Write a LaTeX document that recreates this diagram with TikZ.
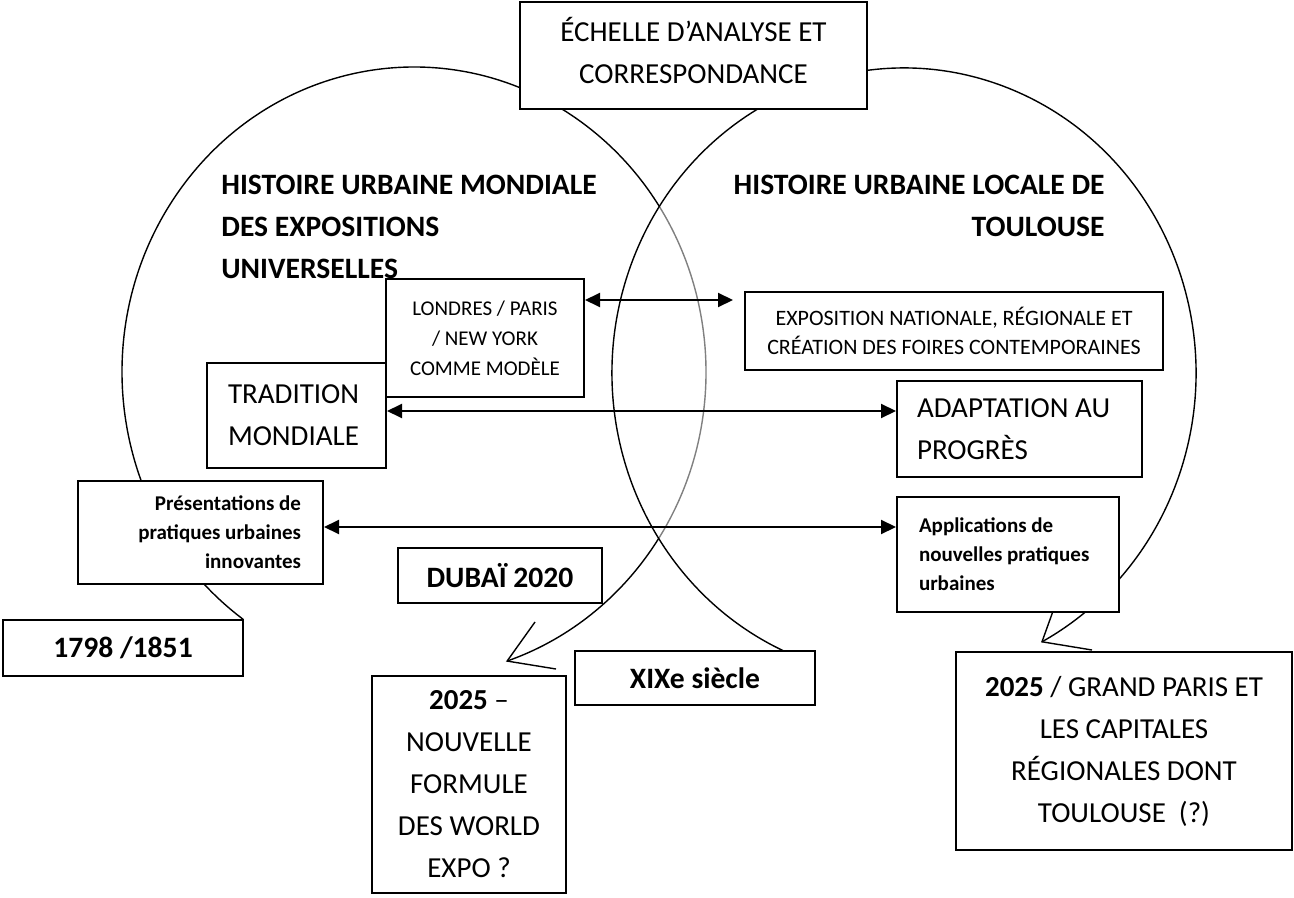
\documentclass[tikz,border=0pt]{standalone}
\usepackage{fontspec}
\setmainfont{Carlito}
\usepackage{tikz}
\usetikzlibrary{arrows.meta}

\begin{document}
\begin{tikzpicture}[
  x=0.5pt, y=-0.5pt,
  every node/.style={inner sep=0pt},
  box/.style={draw, fill=white, line width=1pt},
  bigtext/.style={font=\fontsize{14.5}{21}\selectfont},
  bigbold/.style={font=\fontsize{14.8}{21}\selectfont\bfseries},
  smalltext/.style={font=\fontsize{10.5}{15}\selectfont},
  boldsmall/.style={font=\fontsize{10.5}{14.5}\selectfont\bfseries},
  lobe/.style={line width=0.7pt},
  link/.style={line width=1pt, {Triangle[length=7.5pt,width=7pt]}-{Triangle[length=7.5pt,width=7pt]}}
]
  \useasboundingbox (0,0) rectangle (1294,898);

  % the two lobes
  \coordinate (lc) at (414,372);
  \coordinate (rc) at (904,373);
  \draw[lobe] (lc) ++(-125.8:146pt and 152.5pt)
    arc[start angle=-125.8, end angle=-431.4, x radius=146pt, y radius=152.5pt] coordinate (ltip);
  \coordinate (lnotch) at (535,622);
  \coordinate (lspur) at (556,669);
  \draw[lobe] (lnotch) -- (ltip) -- (lspur);

  \fill[white, fill opacity=0.5] (rc) ellipse [x radius=146pt, y radius=152.5pt];
  \draw[lobe] (rc) ++(-111:146pt and 152.5pt)
    arc[start angle=-111, end angle=-421.8, x radius=146pt, y radius=152.5pt] coordinate (rtip);
  \coordinate (rnotch) at (1057,600);
  \coordinate (rspur) at (1092,650);
  \draw[lobe] (rnotch) -- (rtip) -- (rspur);

  % boxes
  \node[box, bigtext, minimum width=173.5pt, minimum height=53.5pt, text depth=5pt, align=center] (echelle) at (693.5,55.5) {ÉCHELLE D’ANALYSE ET\\CORRESPONDANCE};
  \node[box, smalltext, minimum width=99pt, minimum height=59pt, align=center] (londres) at (485,338) {LONDRES / PARIS\\/ NEW YORK\\COMME MODÈLE};
  \node[box, font=\fontsize{11}{14.5}\selectfont, minimum width=209pt, minimum height=39pt, align=center] (expo) at (954,331) {EXPOSITION NATIONALE, RÉGIONALE ET\\CRÉATION DES FOIRES CONTEMPORAINES};
  \node[box, bigtext, minimum width=89.5pt, minimum height=52.5pt, text width=68.5pt, align=flush left] (tradition) at (296.5,415.5) {TRADITION\\MONDIALE};
  \node[box, bigtext, minimum width=122.5pt, minimum height=48pt, text width=102.5pt, align=flush left] (adapt) at (1019.5,429) {ADAPTATION AU\\PROGRÈS};
  \node[box, boldsmall, minimum width=122.5pt, minimum height=51.5pt, text width=100.5pt, align=flush right] (present) at (200.5,532.5) {Présentations de\\pratiques urbaines\\innovantes};
  \node[box, boldsmall, minimum width=111pt, minimum height=57.5pt, text width=89pt, align=flush left] (appli) at (1008,554.5) {Applications de\\nouvelles pratiques\\urbaines};
  \node[box, bigbold, minimum width=102pt, minimum height=27.5pt] (dubai) at (500,575.5) {DUBAÏ 2020};
  \node[box, bigbold, minimum width=120pt, minimum height=28pt] (debut) at (123,648) {1798 /1851};
  \node[box, bigbold, minimum width=120pt, minimum height=27pt] (siecle) at (695,678) {XIXe siècle};
  \node[box, bigtext, minimum width=97pt, minimum height=108.5pt, align=center] (world) at (469,784.5) {\textbf{2025} –\\NOUVELLE\\FORMULE\\DES WORLD\\EXPO ?};
  \node[box, bigtext, minimum width=168pt, minimum height=99pt, align=center] (grandparis) at (1124,751) {\textbf{2025} / GRAND PARIS ET\\LES CAPITALES\\RÉGIONALES DONT\\TOULOUSE\ \ (?)};

  % titles
  \node[bigbold, anchor=north west, align=flush left] (mondial) at (221,175) {HISTOIRE URBAINE MONDIALE\\DES EXPOSITIONS\\UNIVERSELLES};
  \node[bigbold, anchor=north east, align=flush right] (local) at (1105,175) {HISTOIRE URBAINE LOCALE DE\\TOULOUSE};

  % links
  \coordinate (expoend) at (733,300);
  \draw[link] (londres.east |- expoend) -- (expoend);
  \draw[link] ([yshift=2.25pt]tradition.east) -- ([yshift=9pt]adapt.west);
  \draw[link] ([yshift=2.75pt]present.east) -- ([yshift=13.75pt]appli.west);
\end{tikzpicture}
\end{document}
